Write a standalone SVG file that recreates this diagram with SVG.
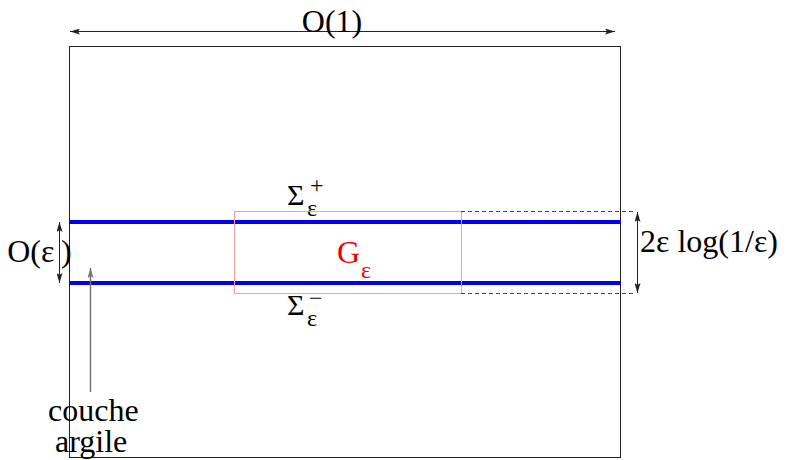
<svg xmlns="http://www.w3.org/2000/svg" width="787" height="460" viewBox="0 0 787 460">
<style>
text{font-family:'Liberation Serif','DejaVu Serif','Times New Roman',serif;fill:#000}
.big{font-size:32px}
.sub{font-size:24px}
.thin{fill:none;stroke:#222;stroke-width:1}
.blue{stroke:#0000ee;stroke-width:4;fill:none}
</style>
<defs>
<marker id="ah" viewBox="0 0 10 6" refX="10" refY="3" markerWidth="10" markerHeight="6" markerUnits="userSpaceOnUse" orient="auto-start-reverse">
<path d="M0,0 L10,3 L0,6 L2,3 Z" fill="#222"/>
</marker>
<marker id="ahg" viewBox="0 0 10 6" refX="10" refY="3" markerWidth="10" markerHeight="6" markerUnits="userSpaceOnUse" orient="auto">
<path d="M0,0 L10,3 L0,6 L2,3 Z" fill="#777"/>
</marker>
</defs>
<rect width="787" height="460" fill="#fff"/>
<g id="domain">
<rect x="69.5" y="46.5" width="551" height="411" class="thin"/>
</g>
<g id="sigma-plus" font-family="Liberation Serif">
<line x1="70" y1="222" x2="621" y2="222" class="blue"/>
<text x="287" y="205" style="font-size:30px">Σ</text>
<text x="307" y="216" class="sub">ε</text>
<text x="310" y="193" class="sub">+</text>
</g>
<g id="sigma-minus" font-family="Liberation Serif">
<line x1="70" y1="283" x2="621" y2="283" class="blue"/>
<text x="287" y="315" style="font-size:30px">Σ</text>
<text x="307" y="326" class="sub">ε</text>
<text x="309" y="306" class="sub">−</text>
</g>
<g id="G-eps">
<rect x="234.5" y="211.5" width="227" height="82" fill="none" stroke="#f0a0a0" stroke-width="1"/>
<text x="337" y="263" class="big" style="fill:#ee0000">G</text>
<text x="361" y="278" class="sub" style="fill:#ee0000">ε</text>
</g>
<g id="extension">
<path d="M461,211.5 H636 M461,293.5 H636" fill="none" stroke="#444" stroke-width="1" stroke-dasharray="4,3"/>
</g>
<g id="connectors">
<line x1="70" y1="31.5" x2="615" y2="31.5" class="thin" marker-start="url(#ah)" marker-end="url(#ah)"/>
<line x1="59.5" y1="222" x2="59.5" y2="283" class="thin" marker-start="url(#ah)" marker-end="url(#ah)"/>
<line x1="637.5" y1="212" x2="637.5" y2="293" class="thin" marker-start="url(#ah)" marker-end="url(#ah)"/>
<line x1="90.5" y1="392" x2="90.5" y2="268" stroke="#777" stroke-width="1.5" marker-end="url(#ahg)"/>
</g>
<g id="labels">
<text x="332" y="32" class="big" text-anchor="middle">O(1)</text>
<text x="41" y="262" class="big" text-anchor="end">O(</text>
<text x="41" y="262" class="big">ε</text>
<text x="61" y="262" class="big">)</text>
<text x="640" y="252" class="big">2ε log(1/ε)</text>
<text x="48" y="421" class="big">couche</text>
<text x="55" y="452" class="big">argile</text>
</g>
</svg>
